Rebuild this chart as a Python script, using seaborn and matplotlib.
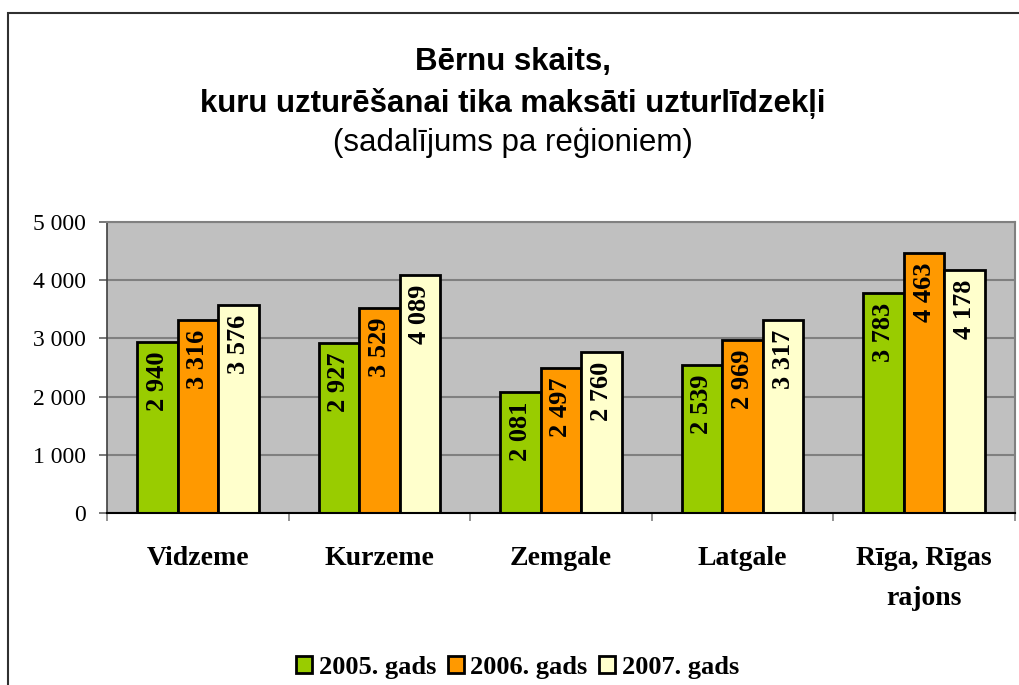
import matplotlib
matplotlib.use("Agg")
import matplotlib.pyplot as plt
from matplotlib.patches import Rectangle, Patch
import numpy as np
import pandas as pd
import seaborn as sb

regions = ["Vidzeme", "Kurzeme", "Zemgale", "Latgale", "Rīga, Rīgas\nrajons"]
years = ["2005. gads", "2006. gads", "2007. gads"]
v2005 = [2940, 2927, 2081, 2539, 3783]
v2006 = [3316, 3529, 2497, 2969, 4463]
v2007 = [3576, 4089, 2760, 3317, 4178]
colors = ["#99CC00", "#FF9900", "#FFFFCC"]

df = pd.DataFrame({
    "region": regions * 3,
    "year": [years[0]] * 5 + [years[1]] * 5 + [years[2]] * 5,
    "count": v2005 + v2006 + v2007,
})

fig = plt.figure(figsize=(10.19, 6.85), dpi=100)
ax = fig.add_axes([0.105, 0.251, 0.891, 0.425])
ax.set_facecolor("#C0C0C0")

sb.barplot(data=df, x="region", y="count", hue="year", palette=colors,
           width=0.67, edgecolor="black", linewidth=2, saturation=1, ax=ax)
ax.get_legend().remove()

ax.set_ylim(0, 5000)
ax.set_xlim(-0.5, 4.5)
ax.set_yticks([0, 1000, 2000, 3000, 4000, 5000])
ax.set_yticklabels([f"{t:,}".replace(",", " ") for t in [0, 1000, 2000, 3000, 4000, 5000]],
                   family="Liberation Serif", fontsize=17)
ax.grid(axis="y", color="#808080", linewidth=1.5)
ax.set_axisbelow(True)
ax.set_xlabel("")
ax.set_ylabel("")

ax.set_xticks(range(5))
ax.set_xticklabels(regions, family="Liberation Serif", fontweight="bold",
                   fontsize=20, linespacing=1.75)
ax.set_xticks(np.arange(-0.5, 5, 1), minor=True)
ax.tick_params(axis="x", which="major", length=0, pad=24)
ax.tick_params(axis="x", which="minor", length=6, color="#808080", width=1.2)
ax.tick_params(axis="y", length=6, color="#606060", width=1.2, pad=9)

for side in ["top", "right"]:
    ax.spines[side].set_color("#808080")
    ax.spines[side].set_linewidth(1.5)
ax.spines["left"].set_color("#404040")
ax.spines["left"].set_linewidth(1.2)
ax.spines["bottom"].set_color("black")
ax.spines["bottom"].set_linewidth(1.5)

for cont in ax.containers:
    for bar in cont:
        h = bar.get_height()
        ax.annotate(f"{int(h):,}".replace(",", " "),
                    (bar.get_x() + bar.get_width() / 2, h),
                    xytext=(0, -7), textcoords="offset points",
                    rotation=90, ha="center", va="top",
                    family="Liberation Serif", fontweight="bold", fontsize=19)

fig.text(0.503, 0.909, "Bērnu skaits,", ha="center", va="center",
         family="Liberation Sans", fontweight="bold", fontsize=22.5)
fig.text(0.503, 0.849, "kuru uzturēšanai tika maksāti uzturlīdzekļi", ha="center", va="center",
         family="Liberation Sans", fontweight="bold", fontsize=22.5)
fig.text(0.503, 0.791, "(sadalījums pa reģioniem)", ha="center", va="center",
         family="Liberation Sans", fontsize=22.5)

handles = [Patch(facecolor=c, edgecolor="black", linewidth=2) for c in colors]
fig.legend(handles, years, loc="center", bbox_to_anchor=(0.508, 0.026), ncol=3,
           frameon=False, prop={"family": "Liberation Serif", "weight": "bold", "size": 19},
           handlelength=0.6, handleheight=0.6, handletextpad=0.25, columnspacing=0.45,
           borderpad=0.1)

fig.add_artist(Rectangle((0.008, -0.1), 1.1, 1.081, transform=fig.transFigure,
                         fill=False, edgecolor="#303030", linewidth=1.5))

fig.savefig("out.png", dpi=100)
